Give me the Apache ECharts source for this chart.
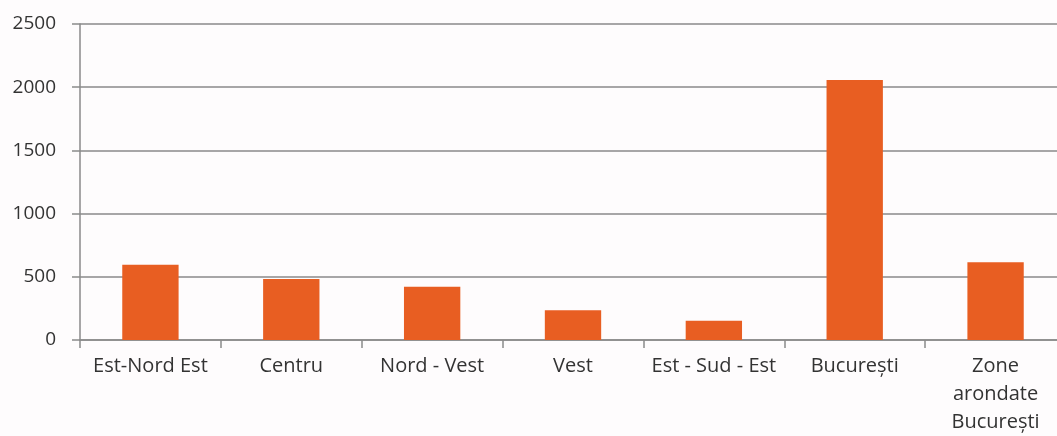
<!DOCTYPE html>
<html>
<head>
<meta charset="utf-8">
<script src="https://cdn.jsdelivr.net/npm/echarts@6/dist/echarts.min.js"></script>
<style>
html,body{margin:0;padding:0;background:#fefcfd;overflow:hidden;width:1057px;height:436px;}
#c{width:1066px;height:436px;}
</style>
</head>
<body>
<div id="c"></div>
<script>
const categories = ['Est-Nord Est', 'Centru', 'Nord - Vest', 'Vest', 'Est - Sud - Est', 'București', 'Zone arondate București'];
const values = [595, 482, 422, 235, 153, 2057, 615];
const yTicks = { min: 0, max: 2500, interval: 500 };

const chart = echarts.init(document.getElementById('c'), null, { renderer: 'canvas' });
chart.setOption({
  backgroundColor: '#fefcfd',
  animation: false,
  grid: { left: 80, right: 0, top: 24, height: 316, containLabel: false },
  xAxis: {
    type: 'category',
    data: categories,
    axisLine: { lineStyle: { color: '#8a8a8a', width: 1.5 } },
    axisTick: { show: true, interval: 0, length: 8, lineStyle: { color: '#8a8a8a', width: 1.5 } },
    axisLabel: {
      interval: 0,
      color: '#333', fontFamily: 'Open Sans', fontSize: 20, margin: 12, lineHeight: 28,
      formatter: v => v === 'Zone arondate București' ? 'Zone\narondate\nBucurești' : v
    }
  },
  yAxis: {
    type: 'value',
    min: yTicks.min, max: yTicks.max, interval: yTicks.interval,
    axisLine: { show: true, lineStyle: { color: '#8a8a8a', width: 1.5 } },
    axisTick: { show: true, length: 8, lineStyle: { color: '#8a8a8a', width: 1.5 } },
    splitLine: { lineStyle: { color: '#8a8a8a', width: 1.5 } },
    axisLabel: { color: '#333', fontFamily: 'Open Sans', fontSize: 19, margin: 24, formatter: v => String(v) }
  },
  series: [{
    type: 'bar',
    data: values,
    barWidth: '40%',
    itemStyle: { color: '#e85e22' }
  }]
});
</script>
</body>
</html>
